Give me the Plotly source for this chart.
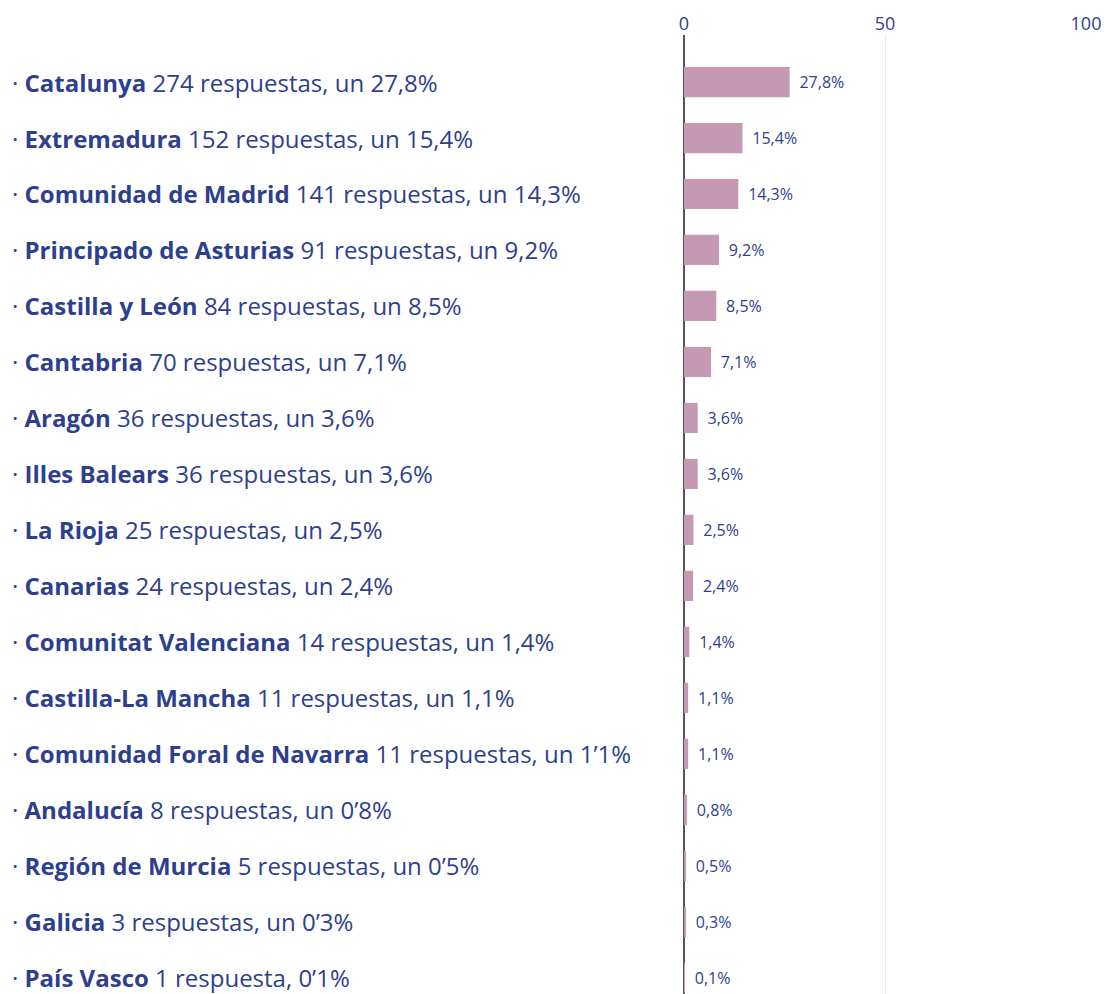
import plotly.graph_objects as go

regions = ["Catalunya", "Extremadura", "Comunidad de Madrid", "Principado de Asturias",
           "Castilla y León", "Cantabria", "Aragón", "Illes Balears", "La Rioja", "Canarias",
           "Comunitat Valenciana", "Castilla-La Mancha", "Comunidad Foral de Navarra",
           "Andalucía", "Región de Murcia", "Galicia", "País Vasco"]
details = ["274 respuestas, un 27,8%", "152 respuestas, un 15,4%", "141 respuestas, un 14,3%",
           "91 respuestas, un 9,2%", "84 respuestas, un 8,5%", "70 respuestas, un 7,1%",
           "36 respuestas, un 3,6%", "36 respuestas, un 3,6%", "25 respuestas, un 2,5%",
           "24 respuestas, un 2,4%", "14 respuestas, un 1,4%", "11 respuestas, un 1,1%",
           "11 respuestas, un 1’1%", "8 respuestas, un 0’8%", "5 respuestas, un 0’5%",
           "3 respuestas, un 0’3%", "1 respuesta, 0’1%"]
values = [27.8, 15.4, 14.3, 9.2, 8.5, 7.1, 3.6, 3.6, 2.5, 2.4, 1.4, 1.1, 1.1, 0.8, 0.5, 0.3, 0.1]
x_ticks = [0, 50, 100]

BLUE = "#2d3f8e"
PINK = "#c599b3"
FONT = "'Open Sans', Lato, sans-serif"

fig = go.Figure()
# empty trace so that the main (gridded) x axis is drawn
fig.add_trace(go.Scatter(x=[], y=[], xaxis="x", yaxis="y", mode="markers",
                         hoverinfo="skip", showlegend=False))
fig.add_trace(go.Bar(
    x=values, y=regions, orientation="h", xaxis="x2", yaxis="y",
    marker=dict(color=PINK, line=dict(width=0)),
    texttemplate="\u00a0\u2009%{x:.1f}%", textposition="outside", cliponaxis=False,
    textfont=dict(family=FONT, size=16, color=BLUE),
    hoverinfo="skip",
))

for r, d in zip(regions, details):
    fig.add_annotation(
        x=-1.677, xref="paper", xanchor="left",
        y=r, yref="y", yanchor="middle",
        text=f"· <b>{r}</b> {d}", showarrow=False,
        font=dict(family=FONT, size=24, color=BLUE),
    )

fig.update_layout(
    width=1107, height=986,
    margin=dict(l=676, r=29, t=27, b=0),
    plot_bgcolor="white", paper_bgcolor="white",
    separators=",.",
    bargap=0.46,
    showlegend=False,
    font=dict(family=FONT, color=BLUE),
    xaxis=dict(
        side="top", range=[0, 100], tickvals=x_ticks,
        tickfont=dict(family=FONT, size=18, color=BLUE),
        showgrid=True, gridcolor="#ebebeb", gridwidth=1,
        zeroline=True, zerolinecolor="#555555", zerolinewidth=2,
        showline=False, ticks="",
    ),
    xaxis2=dict(
        overlaying="x", side="bottom", range=[0, 105.8],
        showticklabels=False, ticks="", showgrid=False, showline=False,
        zeroline=True, zerolinecolor="#555555", zerolinewidth=2,
        layer="above traces",
    ),
    yaxis=dict(
        categoryorder="array", categoryarray=regions,
        range=[16.29, -0.84], showticklabels=False, showgrid=False,
        showline=False, ticks="", zeroline=False,
    ),
)

fig.write_html("out.html")
